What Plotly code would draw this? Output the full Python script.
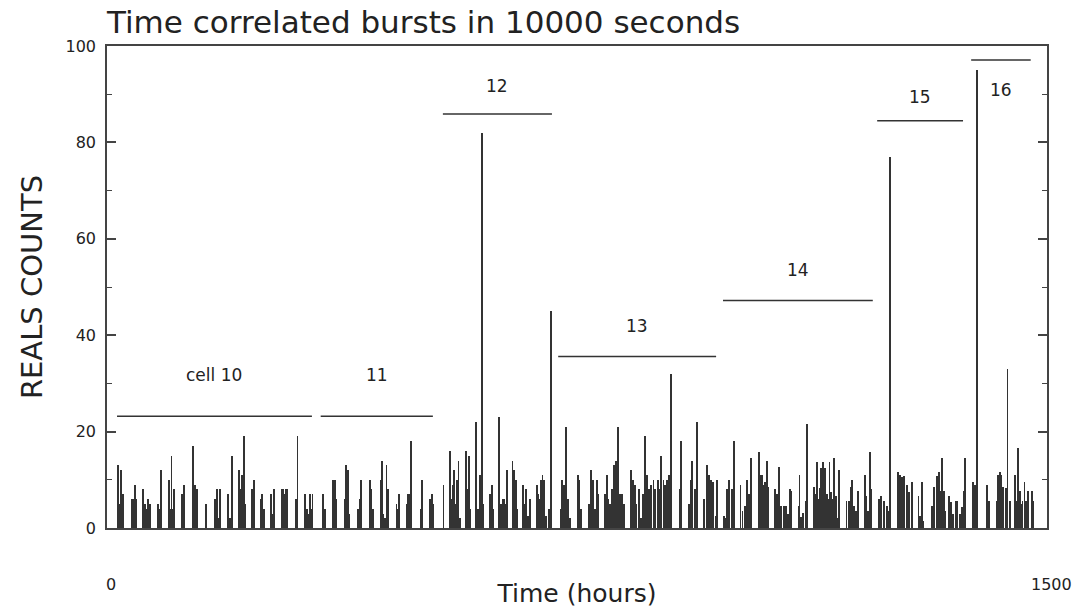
import plotly.graph_objects as go

# ---- data (time in hours, counts) ----
hours = [
    18, 20, 22, 23, 25, 26,
    39, 41, 43, 45, 47,
    58, 60, 61, 63, 66, 68, 69,
    82, 84, 86,
    99, 101, 103, 105, 107,
    119, 121, 123,
    137, 139, 140, 143,
    158,
    172, 175, 177, 180,
    193, 195, 197, 199,
    210, 212, 213, 216, 218, 220,
    232, 235,
    246, 248, 250,
    262, 264, 267,
    279, 281, 283, 285, 287, 288,
    301, 304,
    316, 318, 320, 322, 324, 326, 328,
    345, 348,
    360, 362, 364, 366,
    380, 381, 383, 384, 386,
    400, 403, 404, 406,
    420, 422, 424,
    437, 439, 441, 443, 446, 449,
    462, 464, 466,
    478, 480, 482, 485, 486,
    501, 503,
    515, 518, 521,
    537,
    547, 549, 552, 554, 556, 558, 561, 563,
    573, 575, 577, 579,
    589, 591, 593, 595, 598, 600,
    611, 614, 616,
    626, 628, 630, 632, 634, 636, 638,
    647, 650, 653, 655,
    664, 666, 669, 672, 675,
    686, 688, 690, 692, 695, 698, 700,
    706, 708,
    724, 726, 729, 731, 733, 736, 739,
    752, 754, 756,
    769, 772, 775, 779, 782, 784,
    795, 798, 800, 802, 804, 806, 809, 812, 814, 816, 818, 820, 822, 825,
    836, 840, 842, 845, 849, 852,
    856, 858, 862, 865, 868,
    872, 875, 879, 881, 884, 888, 890, 893, 895, 897, 900,
    914, 916,
    929, 932, 934, 938, 941,
    953, 957, 961, 964, 967, 971, 974,
    984, 986, 990, 992, 997, 998, 1000,
    1011, 1014, 1018, 1021, 1024, 1028,
    1040, 1043, 1045, 1047, 1050, 1053, 1055,
    1066, 1069, 1073, 1075, 1080, 1083, 1087, 1090, 1091,
    1104, 1105, 1108, 1111, 1115, 1117,
    1128, 1131, 1133, 1135, 1137, 1139, 1141, 1143, 1146, 1149, 1151, 1153, 1156, 1158, 1160, 1163, 1167, 1168,
    1180, 1184, 1187, 1189, 1192, 1195, 1199,
    1210, 1212, 1215, 1217, 1220,
    1232, 1235, 1240, 1244, 1247, 1249, 1250,
    1262, 1265, 1269, 1272, 1276, 1280, 1284,
    1295, 1298, 1301, 1303,
    1317, 1320, 1324, 1327, 1329, 1332, 1336, 1338,
    1344, 1347, 1350, 1355, 1357, 1361, 1364, 1367, 1369,
    1382, 1385, 1388, 1389,
    1404, 1407,
    1420, 1422, 1425, 1427, 1430, 1434, 1437, 1441,
    1449, 1451, 1454, 1457, 1459, 1461, 1464, 1466, 1470,
    1476, 1478,
]
counts = [
    13, 5, 5, 12, 5, 7,
    6, 6, 6, 9, 6,
    8, 5, 5, 4, 6, 4, 5,
    5, 4, 12,
    10, 4, 15, 4, 8,
    7, 7, 9,
    17, 8, 9, 8,
    5,
    6, 8, 2, 8,
    7, 2, 2, 15,
    12, 8, 8, 11, 19, 5,
    8, 10,
    6, 7, 4,
    7, 3, 8,
    8, 8, 7, 8, 8, 6,
    6, 19,
    7, 4, 4, 3, 7, 4, 7,
    7, 4,
    10, 4, 10, 6,
    6, 13, 5, 12, 3,
    4, 6, 5, 10,
    10, 8, 4,
    10, 14, 3, 2, 13, 8,
    5, 4, 7,
    5, 7, 7, 18, 10,
    4, 10,
    6, 7, 5,
    9,
    16, 6, 9, 12, 5, 10, 14, 2,
    16, 8, 15, 4,
    22, 4, 4, 11, 82, 5,
    7, 9, 4,
    23, 5, 5, 6, 6, 5, 12,
    14, 12, 10, 4,
    9, 5, 8, 2.5, 6,
    9, 7, 6, 10, 11, 10, 2.5,
    4, 45,
    4, 10, 9, 8, 21, 6, 2,
    11, 10, 4,
    5, 12, 10, 4, 10, 7,
    7, 11, 6, 5, 5, 8, 13, 14, 8, 21, 7, 5, 7, 5,
    12, 10, 9, 5, 8, 2,
    7, 19, 11, 8, 9,
    10, 8, 10, 8, 15, 10, 9, 10, 8, 11, 32,
    8, 18,
    5, 10, 14, 8, 22,
    6, 13, 11, 10, 9.5, 2.5, 10,
    2.5, 2, 8, 10, 4, 8, 18,
    9, 3.6, 4.6, 10, 7, 14.6,
    15.7, 11, 11, 9, 9.5, 14, 8.6,
    8, 7, 12.7, 4.6, 4.6, 4.6, 2.9, 8, 7.7,
    4.6, 11, 2.2, 3.2, 5.7, 21.5,
    8.6, 7, 13.7, 6, 8.4, 12.5, 7, 13.7, 12.5, 7, 6, 13.7, 7.4, 6, 14.6, 6.7, 2, 12,
    5.7, 5.7, 8.6, 10, 4.6, 3.6, 7.7,
    11, 6.7, 3.6, 15.7, 8,
    6, 6.7, 5.7, 4.6, 3.6, 20, 77,
    11.7, 11, 10.6, 10.8, 9, 7.4, 9.5,
    6.7, 2.5, 9.6, 1.5,
    4.6, 8.6, 10.8, 11.7, 7.7, 14.6, 7.7, 3.6,
    6.7, 5.3, 2.9, 5.7, 5.7, 2.9, 4.3, 7.7, 14.6,
    9.6, 9, 95, 9,
    9, 5.7,
    5.7, 11, 11.7, 11, 8.6, 8.4, 33, 5.7,
    11, 5.7, 16.7, 7.7, 5, 5.7, 9.6, 5.7, 7.7,
    7.7, 5.7,
]

# measurement periods (cells) marked by horizontal segments
cell_names = ["cell 10", "11", "12", "13", "14", "15", "16"]
cell_start = [16, 341, 536, 720, 983, 1229, 1379]
cell_end = [327, 520, 710, 972, 1222, 1366, 1474]
cell_level = [23.2, 23.2, 85.9, 35.6, 47.2, 84.5, 97.1]
cell_label_y = [31.7, 31.7, 91.7, 42.0, 53.6, 89.4, 90.9]

x_tick_vals = [0, 1500]
x_tick_text = ["0", "1500"]
y_tick_vals = [0, 20, 40, 60, 80, 100]

FONT = "DejaVu Sans"
INK = "#333333"

fig = go.Figure()
fig.add_trace(go.Bar(
    x=hours, y=counts, width=1.4,
    marker=dict(color=INK, line=dict(width=0)),
    showlegend=False, hoverinfo="x+y",
))

for name, s, e, lv, ly in zip(cell_names, cell_start, cell_end, cell_level, cell_label_y):
    fig.add_shape(type="line", xref="x", yref="y", x0=s, x1=e, y0=lv, y1=lv,
                  line=dict(color="#333333", width=1.5))
    fig.add_annotation(x=(s + e) / 2, y=ly, xref="x", yref="y", text=name,
                       showarrow=False, font=dict(family=FONT, size=17, color="#222222"))

for v, t in zip(x_tick_vals, x_tick_text):
    fig.add_annotation(x=v, y=0, xref="x", yref="paper", yshift=-56, xshift=4, text=t,
                       showarrow=False, xanchor="center", yanchor="middle",
                       font=dict(family=FONT, size=16, color="#222222"))

fig.update_layout(
    width=1077, height=614,
    margin=dict(l=107, r=30, t=46, b=84),
    paper_bgcolor="white", plot_bgcolor="white",
    bargap=0,
    title=dict(text="Time correlated bursts in 10000 seconds",
               x=0, xanchor="left", xref="paper",
               y=1 - 22 / 614, yanchor="middle", yref="container",
               font=dict(family=FONT, size=31, color="#222222")),
    font=dict(family=FONT, color="#222222"),
)
fig.update_xaxes(
    range=[0, 1500], showgrid=False, zeroline=False,
    showline=True, linecolor="#444444", linewidth=1.5, mirror=True,
    showticklabels=False, ticks="",
    title=dict(text="Time (hours)", font=dict(family=FONT, size=25, color="#222222"),
               standoff=56),
)
fig.update_yaxes(
    range=[0, 100], showgrid=False, zeroline=False,
    showline=True, linecolor="#444444", linewidth=1.5, mirror="ticks",
    tickvals=y_tick_vals, ticks="inside", ticklen=9, tickwidth=1.5, tickcolor="#444444",
    ticklabelstandoff=6,
    minor=dict(dtick=10, ticks="inside", ticklen=5, tickwidth=1.2, tickcolor="#444444"),
    tickfont=dict(family=FONT, size=16, color="#222222"),
    title=dict(text="REALS COUNTS", font=dict(family=FONT, size=29, color="#222222"),
               standoff=14),
)

fig.write_html("out.html")
